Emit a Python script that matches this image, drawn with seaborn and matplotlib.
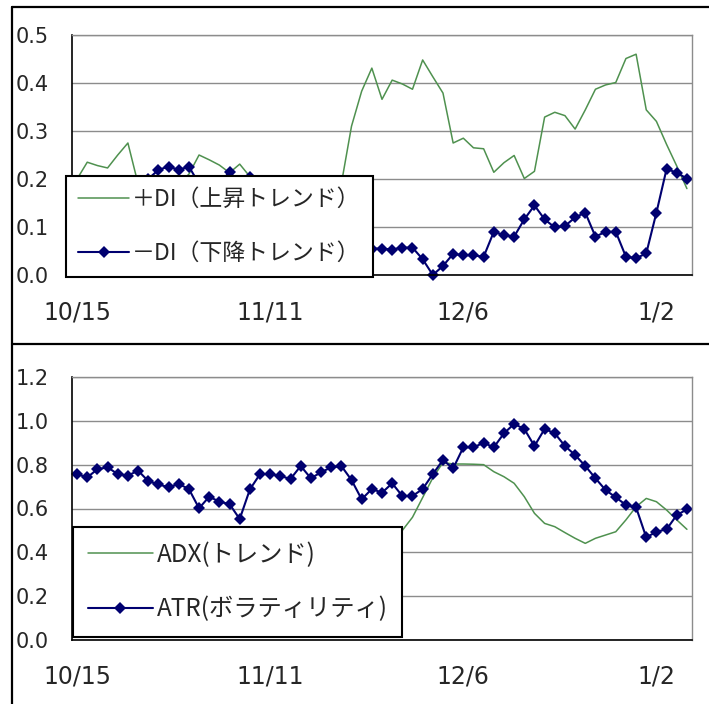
import numpy as np
import pandas as pd
import matplotlib
matplotlib.use("Agg")
import matplotlib.pyplot as plt
from matplotlib.lines import Line2D
from matplotlib.font_manager import FontProperties
import seaborn as sns

# 61 trading days, category axis labelled every 19 days
DAYS = list(range(61))
TICK_DAYS = [0, 19, 38, 57]
TICK_LABELS = ['10/15', '11/11', '12/6', '1/2']

# +DI / -DI (values under the legend box are rough guesses)
PLUS_DI = [0.200, 0.235, 0.228, 0.223, 0.250, 0.275, 0.190, 0.170, 0.160, 0.170,
           0.190, 0.210, 0.250, 0.240, 0.229, 0.213, 0.231, 0.205, 0.190, 0.180,
           0.170, 0.170, 0.160, 0.170, 0.180, 0.180, 0.190, 0.310, 0.383, 0.431,
           0.366, 0.406, 0.398, 0.387, 0.448, 0.413, 0.379, 0.275, 0.285, 0.265,
           0.263, 0.214, 0.234, 0.249, 0.201, 0.216, 0.329, 0.339, 0.332, 0.304,
           0.344, 0.387, 0.396, 0.401, 0.451, 0.460, 0.344, 0.320, 0.272, 0.227,
           0.180]
MINUS_DI = [0.170, 0.160, 0.150, 0.160, 0.170, 0.180, 0.190, 0.200, 0.219, 0.226,
            0.219, 0.226, 0.190, 0.180, 0.190, 0.215, 0.190, 0.205, 0.190, 0.170,
            0.160, 0.140, 0.120, 0.110, 0.100, 0.090, 0.080, 0.070, 0.060, 0.055,
            0.055, 0.053, 0.057, 0.057, 0.033, 0.000, 0.019, 0.044, 0.041, 0.041,
            0.038, 0.090, 0.083, 0.080, 0.116, 0.145, 0.116, 0.099, 0.102, 0.120,
            0.130, 0.080, 0.090, 0.090, 0.038, 0.035, 0.045, 0.130, 0.221, 0.213,
            0.201]

# ADX / ATR
ADX = [0.400, 0.390, 0.380, 0.370, 0.360, 0.350, 0.340, 0.330, 0.320, 0.310,
       0.300, 0.300, 0.290, 0.290, 0.280, 0.280, 0.270, 0.270, 0.260, 0.260,
       0.260, 0.270, 0.280, 0.290, 0.300, 0.310, 0.330, 0.340, 0.350, 0.370,
       0.400, 0.430, 0.500, 0.560, 0.650, 0.740, 0.810, 0.803, 0.803, 0.802,
       0.800, 0.768, 0.745, 0.715, 0.654, 0.578, 0.532, 0.517, 0.490, 0.464,
       0.441, 0.464, 0.479, 0.494, 0.548, 0.608, 0.646, 0.631, 0.593, 0.548,
       0.505]
ATR = [0.757, 0.742, 0.779, 0.788, 0.757, 0.750, 0.773, 0.725, 0.710, 0.697,
       0.712, 0.689, 0.601, 0.654, 0.631, 0.620, 0.552, 0.687, 0.757, 0.757,
       0.748, 0.735, 0.794, 0.738, 0.765, 0.788, 0.794, 0.730, 0.642, 0.689,
       0.672, 0.715, 0.657, 0.657, 0.689, 0.757, 0.821, 0.783, 0.879, 0.879,
       0.900, 0.879, 0.943, 0.986, 0.963, 0.885, 0.963, 0.943, 0.885, 0.844,
       0.794, 0.738, 0.684, 0.651, 0.616, 0.605, 0.468, 0.494, 0.505, 0.570,
       0.596]

GREEN = '#4f914f'
NAVY = '#000070'
GRID = '#8c8c8c'

W, H = 709, 704


def fig_rect(x0, y0, x1, y1):
    """pixel box (top-left origin) -> figure fraction rect"""
    return [x0 / W, 1 - y1 / H, (x1 - x0) / W, (y1 - y0) / H]


def draw_panel(fig, rect, green, navy, labels, ymax, ystep, legend_xy, legend_opts):
    ax = fig.add_axes(rect)
    df = pd.DataFrame({'day': DAYS, 'green': green, 'navy': navy})

    sns.lineplot(data=df, x='day', y='green', ax=ax, color=GREEN,
                 linewidth=1.1, label=labels[0], clip_on=False)
    sns.lineplot(data=df, x='day', y='navy', ax=ax, color=NAVY,
                 linewidth=1.5, marker='D', markersize=6.5, markeredgewidth=0,
                 label=labels[1], clip_on=False)

    ax.set_xlim(-0.5, len(DAYS) - 0.5)
    ax.set_ylim(0, ymax)
    yt = np.round(np.arange(0, ymax + ystep / 2, ystep), 2)
    ax.set_yticks(yt)
    ax.set_yticklabels([f'{v:.1f}' for v in yt], fontsize=15)
    ax.set_xticks(TICK_DAYS)
    ax.set_xticklabels(TICK_LABELS, fontsize=17)
    ax.tick_params(axis='x', length=0, pad=18)
    ax.tick_params(axis='y', length=4, width=1, pad=13, color='black')
    ax.set_xlabel('')
    ax.set_ylabel('')

    ax.yaxis.grid(True, color=GRID, linewidth=1)
    ax.xaxis.grid(False)
    ax.set_axisbelow(True)
    for side in ['top', 'right']:
        ax.spines[side].set_color(GRID)
        ax.spines[side].set_linewidth(1)
    for side in ['left', 'bottom']:
        ax.spines[side].set_color('black')
        ax.spines[side].set_linewidth(1.2)

    handles, labs = ax.get_legend_handles_labels()
    leg = ax.legend(handles, labs, loc='lower left',
                    bbox_to_anchor=(legend_xy[0] / W, 1 - legend_xy[1] / H),
                    bbox_transform=fig.transFigure, borderaxespad=0,
                    frameon=True, fancybox=False, framealpha=1, edgecolor='black',
                    handletextpad=0.15, **legend_opts)
    leg.get_frame().set_linewidth(1.5)
    return ax


def main():
    sns.set_style('white')
    plt.rcParams['font.family'] = ['DejaVu Sans', 'Noto Sans CJK JP']
    cjk = ['Noto Sans CJK JP', 'DejaVu Sans']

    fig = plt.figure(figsize=(W / 100, H / 100), dpi=100)
    fig.patch.set_facecolor('white')

    draw_panel(fig, fig_rect(72, 35, 692, 275), PLUS_DI, MINUS_DI,
               ['＋DI（上昇トレンド）', '－DI（下降トレンド）'],
               0.5, 0.1, (66, 277),
               dict(prop=FontProperties(family=cjk, size=16.5),
                    borderpad=0.54, labelspacing=1.34, handlelength=2.2))
    draw_panel(fig, fig_rect(72, 377, 692, 640), ADX, ATR,
               ['ADX(トレンド)', 'ATR(ボラティリティ)'],
               1.2, 0.2, (73, 637),
               dict(prop=FontProperties(family=cjk, size=17.5),
                    borderpad=0.6, labelspacing=1.18, handlelength=2.7))

    # chart area borders (right / bottom edges lie outside the picture)
    for xs, ys in [([12, W], [7, 7]), ([12, 12], [7, H]), ([12, W], [344, 344])]:
        fig.add_artist(Line2D([x / W for x in xs], [1 - y / H for y in ys],
                              color='black', linewidth=1.6))

    fig.savefig('out.png', dpi=100, facecolor='white')


if __name__ == '__main__':
    main()
